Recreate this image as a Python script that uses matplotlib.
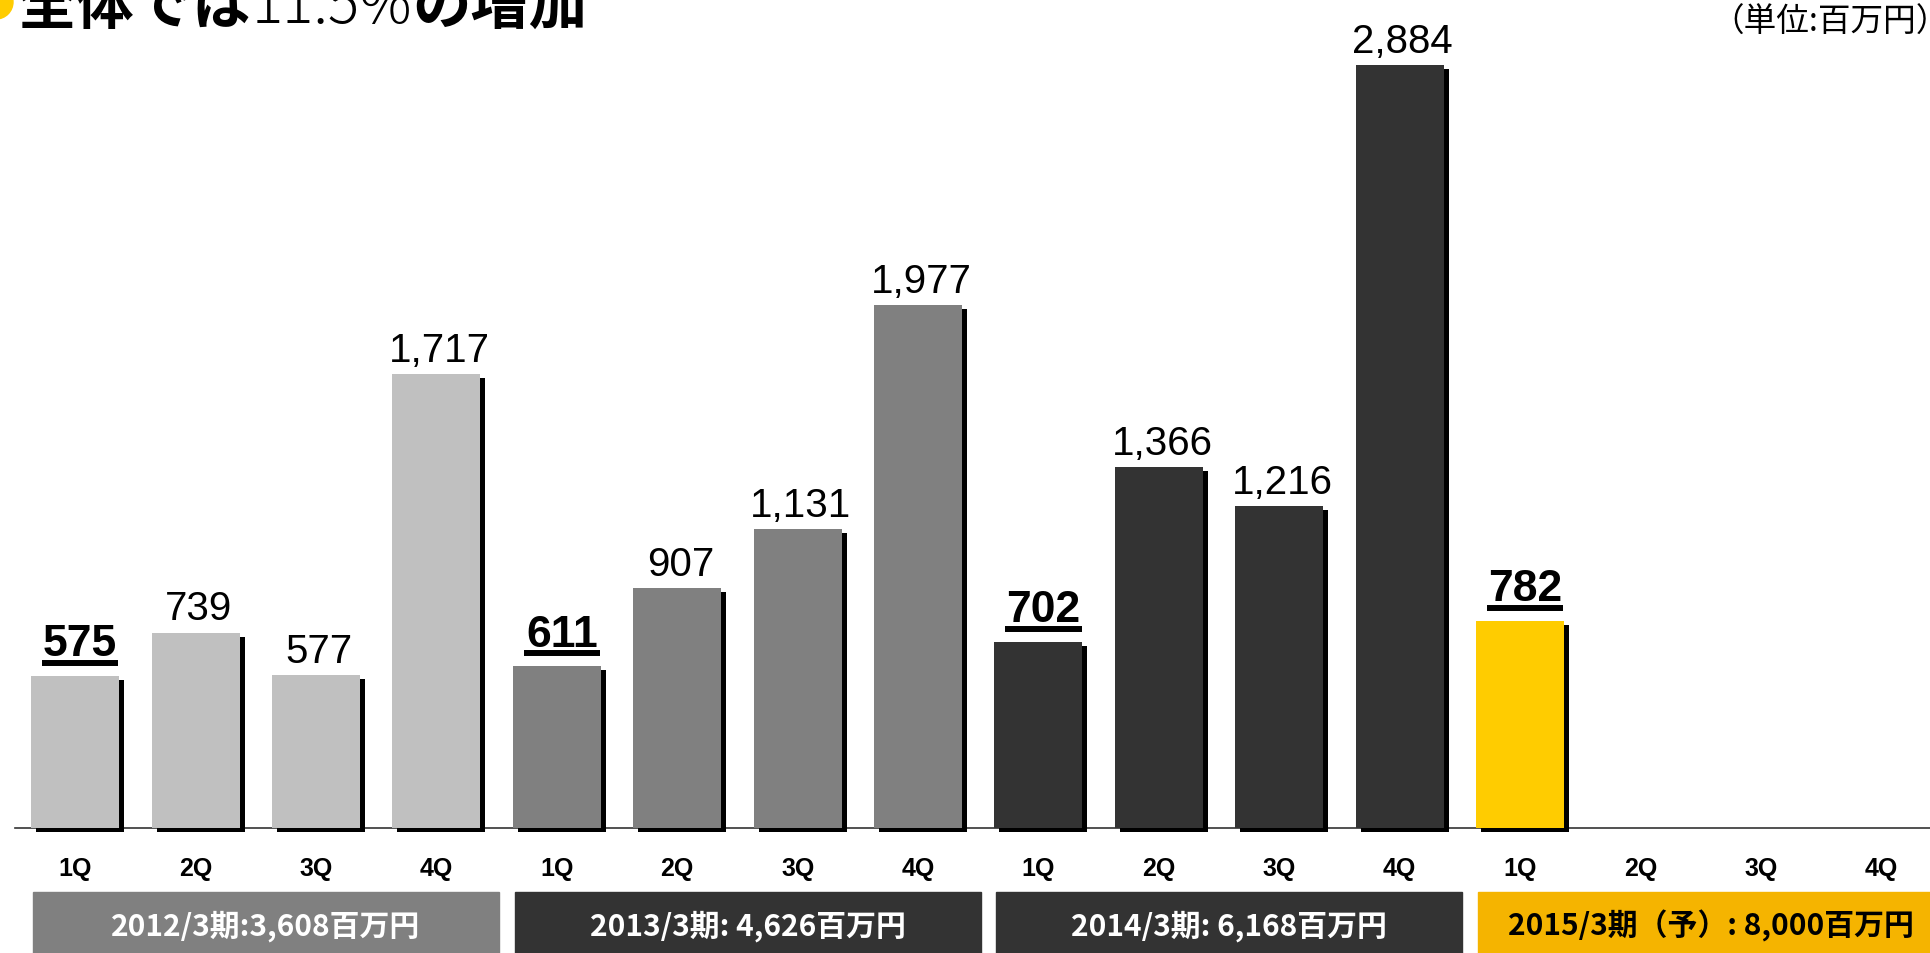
import matplotlib.pyplot as plt
from matplotlib import patheffects as pe
from matplotlib.patches import Rectangle, Circle
from matplotlib.transforms import offset_copy, blended_transform_factory

plt.rcParams['font.family'] = ['Noto Sans CJK JP', 'DejaVu Sans']

# データ（単位：百万円）
quarters = ["1Q", "2Q", "3Q", "4Q"]
sales_2012 = [575, 739, 577, 1717]
sales_2013 = [611, 907, 1131, 1977]
sales_2014 = [702, 1366, 1216, 2884]
sales_2015 = [782]
fiscal_years = ["2012/3期:3,608百万円", "2013/3期: 4,626百万円",
                "2014/3期: 6,168百万円", "2015/3期（予）: 8,000百万円"]
title_parts = ["全体では", "11.5%", "の増加"]
unit_label = "（単位:百万円）"

bar_colors = ["#C0C0C0", "#808080", "#333333", "#FFCC00"]
box_colors = ["#808080", "#333333", "#333333", "#F5B400"]
box_text_colors = ["white", "white", "white", "black"]

fig = plt.figure(figsize=(19.30, 9.54), dpi=100)
ax = fig.add_axes([15 / 1930, 125 / 954, 1915 / 1930, 829 / 954])

sombra = [pe.SimplePatchShadow(offset=(3.6, -2.9), shadow_rgbFace="black", alpha=1.0), pe.Normal()]
num_font = "Liberation Sans"

for g, valores in enumerate([sales_2012, sales_2013, sales_2014, sales_2015]):
    xs = [4 * g + i for i in range(len(valores))]
    ax.bar(xs, valores, width=0.73, color=bar_colors[g], clip_on=False, path_effects=sombra, zorder=3)
    for i, (x, v) in enumerate(zip(xs, valores)):
        if i == 0:
            # primer trimestre: negrita y subrayado
            ax.annotate(f"{v:,}", xy=(x, v), xytext=(3.6, 15), textcoords="offset points",
                        ha="center", va="baseline", fontsize=32, fontweight="bold",
                        family=num_font, annotation_clip=False)
            ax.plot([x - 0.318, x + 0.318], [v, v], color="black", lw=4.3, solid_capstyle="butt",
                    transform=offset_copy(ax.transData, fig=fig, x=5, y=13, units="dots"),
                    clip_on=False, zorder=4)
        else:
            ax.annotate(f"{v:,}", xy=(x, v), xytext=(2.2, 9.4), textcoords="offset points",
                        ha="center", va="baseline", fontsize=29, family=num_font,
                        annotation_clip=False)

ax.set_xlim(-0.5, 15.405)
ax.set_ylim(0, 3134)
ax.set_xticks(range(16), quarters * 4)
for lbl in ax.get_xticklabels():
    lbl.set_fontfamily(num_font)
    lbl.set_fontweight("bold")
    lbl.set_fontsize(18)
ax.tick_params(axis="x", length=0, pad=20)
ax.set_yticks([])
for lado in ["top", "right", "left"]:
    ax.spines[lado].set_visible(False)
ax.spines["bottom"].set_color("#333333")
ax.spines["bottom"].set_linewidth(1.2)
ax.patch.set_alpha(0)

# cajas de totales anuales
trans = blended_transform_factory(ax.transData, fig.transFigure)
for g, etiqueta in enumerate(fiscal_years):
    x0 = 4 * g - 0.35
    ax.add_patch(Rectangle((x0, -0.01), 3.87, 0.074, transform=trans, color=box_colors[g],
                           clip_on=False, zorder=2))
    ax.text(x0 + 3.87 / 2, 0.029, etiqueta, transform=trans, ha="center", va="center",
            fontsize=21.5, fontweight="bold", color=box_text_colors[g], clip_on=False)

# título cortado arriba
fig.patches.append(Circle((-0.04, 9.51), 0.17, transform=fig.dpi_scale_trans,
                          color="#FFCC00", figure=fig))
t1 = fig.text(18 / 1930, 1 - 24 / 954, title_parts[0], fontsize=42, fontweight="bold", va="baseline")
t2 = ax.annotate(title_parts[1], xy=(1, 0), xycoords=t1, va="bottom", fontsize=42, fontweight="light")
t3 = ax.annotate(title_parts[2], xy=(1, 0), xycoords=t2, va="bottom", fontsize=42, fontweight="bold")

fig.text(1711 / 1930, 1 - 23 / 954, unit_label, fontsize=23.5, va="center", ha="left")

fig.savefig("out.png", dpi=100)
